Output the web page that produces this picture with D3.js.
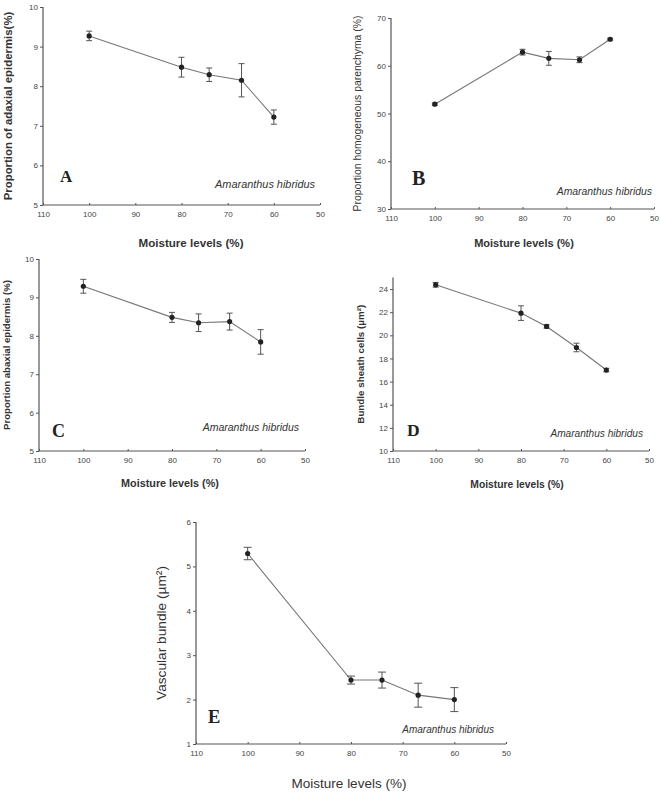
<!DOCTYPE html>
<html lang="en">
  <head>
    <meta charset="utf-8">
    <title>Amaranthus hibridus - moisture levels</title>
    <style>
      body { margin: 0; padding: 0; background: #fff; }
      #chart { width: 661px; height: 792px; }
      .tick text { fill: #444; font-family: Arial, "Liberation Sans", sans-serif; font-size: 8px; }
      .domain, .tick line { stroke: #555; }
    </style>
  </head>
  <body>
    <div id="chart"></div>
    <script src="https://d3js.org/d3.v7.min.js"></script>
    <script>

    // data
    var moisture = [100, 80, 74, 67, 60];
    var xTicks = [110, 100, 90, 80, 70, 60, 50];

    var adaxial = [9.27, 8.48, 8.29, 8.15, 7.22];
    var adaxialErr = [0.12, 0.25, 0.17, 0.42, 0.18];

    var homogeneous = [51.95, 62.85, 61.55, 61.25, 65.55];
    var homogeneousErr = [0.25, 0.6, 1.45, 0.6, 0.2];

    var abaxial = [9.29, 8.48, 8.34, 8.37, 7.84];
    var abaxialErr = [0.18, 0.13, 0.23, 0.22, 0.32];

    var sheath = [24.37, 21.92, 20.77, 18.95, 17.0];
    var sheathErr = [0.2, 0.63, 0.15, 0.37, 0.15];

    var vascular = [5.29, 2.44, 2.44, 2.1, 2.0];
    var vascularErr = [0.14, 0.09, 0.18, 0.27, 0.27];

    var species = 'Amaranthus hibridus';
    var xTitle = 'Moisture levels (%)';

    var sans = 'Arial, "Liberation Sans", sans-serif';
    var serif = '"Times New Roman", "Liberation Serif", serif';

    var panels = [
      { letter: 'A', values: adaxial, errs: adaxialErr, yDomain: [5, 10], yTicks: [5, 6, 7, 8, 9, 10],
        yTitle: 'Proportion of adaxial epidermis(%)',
        box: { x0: 43, x1: 320, y0: 7, y1: 205 }, cap: 3,
        yLab: { x: 12, size: 11.4, weight: 'bold' },
        xLab: { x: 191, y: 247, size: 11.6, weight: 'bold' },
        let: { x: 60, y: 182, size: 17 },
        sp: { x: 315, y: 188, size: 10.9 } },
      { letter: 'B', values: homogeneous, errs: homogeneousErr, yDomain: [30, 70], yTicks: [30, 40, 50, 60, 70],
        yTitle: 'Proportion homogeneous parenchyma (%)',
        box: { x0: 391, x1: 654, y0: 18, y1: 209 }, cap: 3,
        yLab: { x: 361, size: 10.4, weight: 'normal' },
        xLab: { x: 524, y: 247, size: 11, weight: 'bold' },
        let: { x: 412, y: 185, size: 20 },
        sp: { x: 652, y: 195, size: 10.4 } },
      { letter: 'C', values: abaxial, errs: abaxialErr, yDomain: [5, 10], yTicks: [5, 6, 7, 8, 9, 10],
        yTitle: 'Proportion abaxial epidermis  (%)',
        box: { x0: 39, x1: 305, y0: 259, y1: 451 }, cap: 3,
        yLab: { x: 10, size: 9.6, weight: 'bold' },
        xLab: { x: 170, y: 487, size: 10.8, weight: 'bold' },
        let: { x: 52, y: 437, size: 18 },
        sp: { x: 299, y: 431, size: 10.5 } },
      { letter: 'D', values: sheath, errs: sheathErr, yDomain: [10, 25], yTicks: [10, 12, 14, 16, 18, 20, 22, 24],
        yTitle: 'Bundle sheath cells  (\u00b5m\u00b2)',
        box: { x0: 393, x1: 649, y0: 277.5, y1: 451 }, cap: 3,
        yLab: { x: 364, size: 9.8, weight: 'bold' },
        xLab: { x: 517, y: 488, size: 10.3, weight: 'bold' },
        let: { x: 407, y: 436, size: 17.5 },
        sp: { x: 643, y: 437, size: 10.1 } },
      { letter: 'E', values: vascular, errs: vascularErr, yDomain: [1, 6], yTicks: [1, 2, 3, 4, 5, 6],
        yTitle: 'Vascular bundle (\u00b5m\u00b2)',
        box: { x0: 196, x1: 506, y0: 522, y1: 744 }, cap: 4,
        yLab: { x: 166, size: 13.7, weight: 'normal' },
        xLab: { x: 349, y: 788, size: 13.5, weight: 'normal' },
        let: { x: 208, y: 723, size: 18.5 },
        sp: { x: 494, y: 733, size: 10 } }
    ];

    var svg = d3.select('#chart')
      .append('svg')
      .attr('width', 661)
      .attr('height', 792);

    panels.forEach(function(p) {
      var b = p.box;
      var x = d3.scaleLinear().domain([110, 50]).range([b.x0, b.x1]);
      var y = d3.scaleLinear().domain(p.yDomain).range([b.y1, b.y0]);
      var g = svg.append('g');

      g.append('g')
        .attr('transform', 'translate(0,' + b.y1 + ')')
        .call(d3.axisBottom(x).tickValues(xTicks).tickSize(-2).tickPadding(6).tickFormat(d3.format('d')))
        .call(function(a) { a.select('.domain').attr('d', 'M' + b.x0 + ',0H' + b.x1); });

      g.append('g')
        .attr('transform', 'translate(' + b.x0 + ',0)')
        .call(d3.axisLeft(y).tickValues(p.yTicks).tickSize(3).tickPadding(2).tickFormat(d3.format('d')))
        .call(function(a) { a.select('.domain').attr('d', 'M0,' + b.y1 + 'V' + b.y0); });

      g.selectAll('.domain').attr('stroke-width', 1.2);

      var pts = moisture.map(function(m, i) { return { m: m, v: p.values[i], e: p.errs[i] }; });

      g.append('path')
        .datum(pts)
        .attr('fill', 'none')
        .attr('stroke', '#777')
        .attr('stroke-width', 1.1)
        .attr('d', d3.line().x(function(d) { return x(d.m); }).y(function(d) { return y(d.v); }));

      var eb = g.selectAll('.err').data(pts).enter().append('g').attr('class', 'err')
        .attr('stroke', '#555').attr('stroke-width', 1);
      eb.append('line')
        .attr('x1', function(d) { return x(d.m); }).attr('x2', function(d) { return x(d.m); })
        .attr('y1', function(d) { return y(d.v - d.e); }).attr('y2', function(d) { return y(d.v + d.e); });
      eb.append('line')
        .attr('x1', function(d) { return x(d.m) - p.cap; }).attr('x2', function(d) { return x(d.m) + p.cap; })
        .attr('y1', function(d) { return y(d.v - d.e); }).attr('y2', function(d) { return y(d.v - d.e); });
      eb.append('line')
        .attr('x1', function(d) { return x(d.m) - p.cap; }).attr('x2', function(d) { return x(d.m) + p.cap; })
        .attr('y1', function(d) { return y(d.v + d.e); }).attr('y2', function(d) { return y(d.v + d.e); });

      g.selectAll('.dot').data(pts).enter().append('circle')
        .attr('cx', function(d) { return x(d.m); })
        .attr('cy', function(d) { return y(d.v); })
        .attr('r', 2.6)
        .attr('fill', '#222');

      g.append('text')
        .attr('transform', 'translate(' + p.yLab.x + ',' + ((b.y0 + b.y1) / 2) + ') rotate(-90)')
        .attr('text-anchor', 'middle')
        .style('font-family', sans)
        .style('font-size', p.yLab.size + 'px')
        .style('font-weight', p.yLab.weight)
        .style('fill', '#333')
        .text(p.yTitle);

      g.append('text')
        .attr('x', p.xLab.x).attr('y', p.xLab.y)
        .attr('text-anchor', 'middle')
        .style('font-family', sans)
        .style('font-size', p.xLab.size + 'px')
        .style('font-weight', p.xLab.weight)
        .style('fill', '#333')
        .text(xTitle);

      g.append('text')
        .attr('x', p.let.x).attr('y', p.let.y)
        .style('font-family', serif)
        .style('font-size', p.let.size + 'px')
        .style('font-weight', 'bold')
        .style('fill', '#222')
        .text(p.letter);

      g.append('text')
        .attr('x', p.sp.x).attr('y', p.sp.y)
        .attr('text-anchor', 'end')
        .style('font-family', sans)
        .style('font-size', p.sp.size + 'px')
        .style('font-style', 'italic')
        .style('fill', '#333')
        .text(species);
    });

    </script>
  </body>
</html>
